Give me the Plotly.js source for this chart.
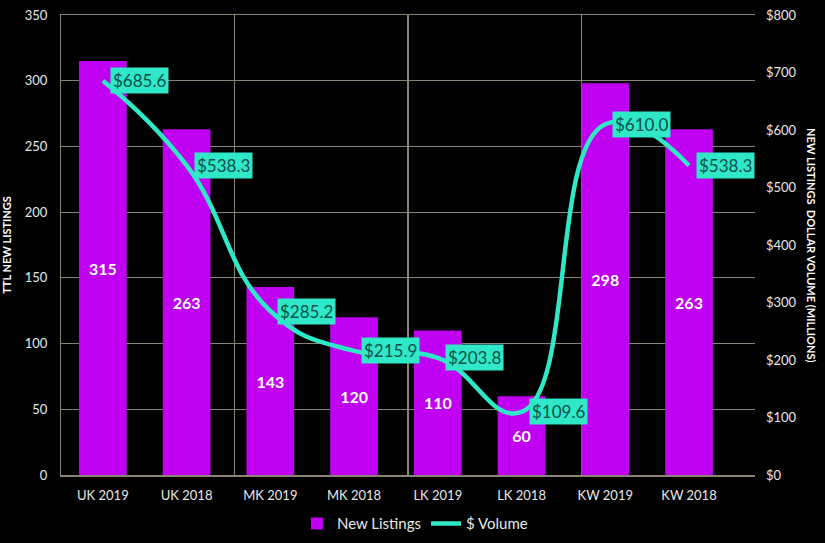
<!DOCTYPE html>
<html>
<head>
<meta charset="utf-8">
<script src="https://cdn.plot.ly/plotly-3.0.1.min.js"></script>
<style>html,body{margin:0;padding:0;background:#000;}#chart{width:825px;height:543px;}</style>
</head>
<body>
<div id="chart"></div>
<script>
const categories = ["UK 2019","UK 2018","MK 2019","MK 2018","LK 2019","LK 2018","KW 2019","KW 2018"];
const newListings = [315, 263, 143, 120, 110, 60, 298, 263];
const dollarVolume = [685.6, 538.3, 285.2, 215.9, 203.8, 109.6, 610.0, 538.3];

const FONT = "Lato, 'Open Sans', sans-serif";
const GRID = "#8a8478";
const CYAN = "#2ee8c8";
const PURPLE = "#c000f0";

const traces = [
  {
    type: "bar", name: "New Listings", x: categories, y: newListings,
    marker: {color: PURPLE}, width: 0.57,
    texttemplate: "<b>%{y}</b>", textposition: "inside", insidetextanchor: "middle",
    textfont: {color: "#ffffff", size: 16, family: FONT}, hoverinfo: "skip"
  },
  {
    type: "scatter", mode: "lines", name: "$ Volume", x: categories, y: dollarVolume,
    yaxis: "y2", line: {color: CYAN, width: 4.5, shape: "spline", smoothing: 1.3}, hoverinfo: "skip"
  },
  {
    type: "scatter", mode: "lines", x: [], y: [], xaxis: "x3", showlegend: false, hoverinfo: "skip"
  }
];

const annotations = dollarVolume.map((v, i) => ({
  x: categories[i], y: v, xref: "x", yref: "y2",
  text: "$" + v.toFixed(1), showarrow: false,
  xanchor: "left", yanchor: "middle", xshift: 7,
  bgcolor: CYAN, borderpad: 2,
  font: {color: "#0b4f47", size: 17, family: FONT}
}));
annotations.push({
  xref: "paper", yref: "paper", x: 1.082, y: 0.5, textangle: 90,
  text: "<b>NEW LISTINGS  DOLLAR VOLUME (MILLIONS)</b>", showarrow: false,
  font: {color: "#ffffff", size: 11, family: FONT}, xanchor: "center", yanchor: "middle"
});

const layout = {
  width: 825, height: 543,
  paper_bgcolor: "#000", plot_bgcolor: "#000",
  margin: {l: 61, r: 70, t: 15, b: 68, autoexpand: false},
  font: {family: FONT, color: "#e8e8e8"},
  xaxis: {
    type: "category", showgrid: false, showline: true, linecolor: GRID, linewidth: 1.5,
    mirror: true, ticks: "", ticklabelstandoff: 8, tickfont: {size: 13, color: "#e8e8e8"}
  },
  xaxis3: {
    overlaying: "x", anchor: "y", range: [-0.5, 7.5], tickvals: [1.5, 3.5, 5.5],
    showticklabels: false, showgrid: true, gridcolor: GRID, gridwidth: 1.2, zeroline: false, ticks: ""
  },
  yaxis: {
    range: [0, 350], dtick: 50, showgrid: true, gridcolor: GRID, gridwidth: 1.2,
    zeroline: false, showline: true, linecolor: GRID, ticks: "", ticklabelstandoff: 10,
    tickfont: {size: 13, color: "#e8e8e8"},
    title: {text: "<b>TTL NEW LISTINGS</b>", font: {size: 11, color: "#fff"}, standoff: 12}
  },
  yaxis2: {
    overlaying: "y", side: "right", range: [0, 800], dtick: 100, tickprefix: "$",
    showgrid: false, zeroline: false, ticks: "", ticklabelstandoff: 10,
    tickfont: {size: 13, color: "#e8e8e8"}
  },
  legend: {
    orientation: "h", x: 0.51, xanchor: "center", y: -0.106, yanchor: "middle",
    font: {size: 15, color: "#e8e8e8"}, bgcolor: "rgba(0,0,0,0)"
  },
  annotations: annotations,
  showlegend: true
};

Plotly.newPlot("chart", traces, layout, {displayModeBar: false, staticPlot: true});
</script>
</body>
</html>
